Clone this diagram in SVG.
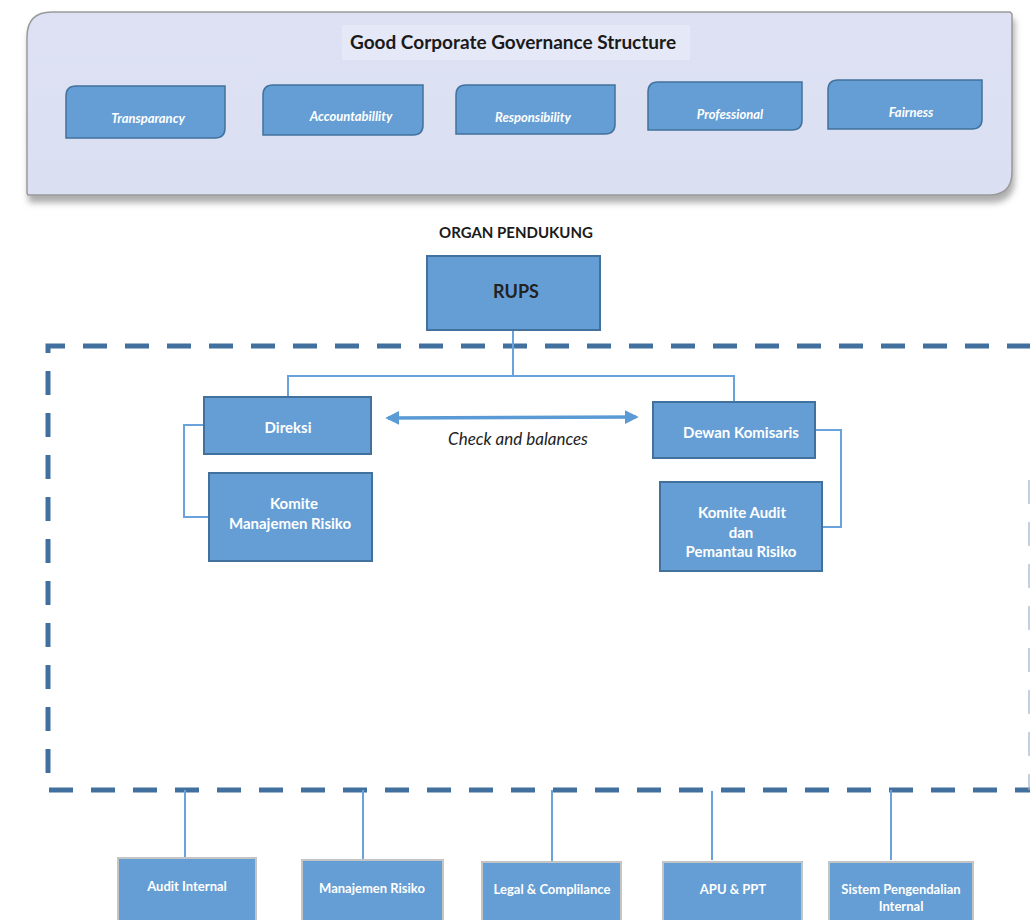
<svg xmlns="http://www.w3.org/2000/svg" width="1030" height="920" viewBox="0 0 1030 920">
  <defs>
    <filter id="panelShadow" x="-5%" y="-10%" width="110%" height="130%">
      <feDropShadow dx="2" dy="7" stdDeviation="3" flood-color="#777" flood-opacity="0.6"/>
    </filter>
    <linearGradient id="panelFill" x1="0" y1="0" x2="0" y2="1">
      <stop offset="0" stop-color="#dde1f3"/>
      <stop offset="1" stop-color="#dadff1"/>
    </linearGradient>
    <marker id="arrowHead" viewBox="0 0 10 10" refX="8" refY="5" markerWidth="4" markerHeight="4" orient="auto-start-reverse">
      <path d="M0,0 L10,5 L0,10 Z" fill="#5b9bd5"/>
    </marker>
    <style>
      .pillar { fill: #659ed4; stroke: #41719c; stroke-width: 1.5; }
      .pillar-text { font-family: Lato, "Open Sans", sans-serif; font-size: 13px; font-weight: bold; font-style: italic; fill: #ffffff; text-anchor: middle; }
      .box { fill: #659ed4; stroke: #41719c; stroke-width: 2; }
      .box-text { font-family: Lato, "Open Sans", sans-serif; font-size: 15px; font-weight: bold; fill: #ffffff; text-anchor: middle; }
      .unit { fill: #659ed4; stroke: #c4c4c4; stroke-width: 2; }
      .unit-text { font-family: Lato, "Open Sans", sans-serif; font-size: 13px; font-weight: bold; fill: #ffffff; text-anchor: middle; }
      .link { fill: none; stroke: #6aa2db; stroke-width: 2; }
      .heading { font-family: Lato, "Open Sans", sans-serif; font-weight: bold; fill: #1a1a1a; text-anchor: middle; }
    </style>
  </defs>

  <rect width="1030" height="920" fill="#ffffff"/>

  <!-- GCG principles panel -->
  <g id="gcg-panel">
    <path d="M52,12 L1010,12 L1012,14 L1012,172 Q1012,195 989,195 L28,195 L27,193 L27,37 Q27,12 52,12 Z" fill="url(#panelFill)" stroke="#9a9a9a" stroke-width="1.5" filter="url(#panelShadow)"/>
    <rect x="342" y="25" width="348" height="35" fill="#e5e8f6"/>
    <text class="heading" x="513" y="49" font-size="19">Good Corporate Governance Structure</text>
  </g>

  <g id="pillar-transparancy">
    <path class="pillar" d="M76,86 L225,86 L225,128 Q225,138 215,138 L66,138 L66,96 Q66,86 76,86 Z"/>
    <text class="pillar-text" x="148" y="123">Transparancy</text>
  </g>
  <g id="pillar-accountability">
    <path class="pillar" d="M273,85 L423,85 L423,125 Q423,135 413,135 L263,135 L263,95 Q263,85 273,85 Z"/>
    <text class="pillar-text" x="351" y="121">Accountabillity</text>
  </g>
  <g id="pillar-responsibility">
    <path class="pillar" d="M466,85 L615,85 L615,124 Q615,134 605,134 L456,134 L456,95 Q456,85 466,85 Z"/>
    <text class="pillar-text" x="533" y="122">Responsibility</text>
  </g>
  <g id="pillar-professional">
    <path class="pillar" d="M658,82 L802,82 L802,120 Q802,130 792,130 L648,130 L648,92 Q648,82 658,82 Z"/>
    <text class="pillar-text" x="730" y="119">Professional</text>
  </g>
  <g id="pillar-fairness">
    <path class="pillar" d="M838,80 L982,80 L982,119 Q982,129 972,129 L828,129 L828,90 Q828,80 838,80 Z"/>
    <text class="pillar-text" x="911" y="117">Fairness</text>
  </g>

  <text class="heading" x="516" y="238" font-size="15">ORGAN PENDUKUNG</text>

  <!-- Dashed boundary of the main organs -->
  <path id="organ-boundary" d="M1031,346 L48,346 L48,790 L1031,790" fill="none" stroke="#41709f" stroke-width="5" stroke-dasharray="24 18"/>
  <line x1="1029" y1="480" x2="1029" y2="790" stroke="#9fb2c8" stroke-width="1.2" stroke-dasharray="24 18"/>

  <!-- Connectors -->
  <g id="connectors">
    <path class="link" d="M513,330 L513,376"/>
    <path class="link" d="M288,397 L288,376 L734,376 L734,402"/>
    <path class="link" d="M204,425 L184,425 L184,517 L209,517"/>
    <path class="link" d="M815,430 L841,430 L841,527 L822,527"/>
    <path class="link" d="M185,790 L185,858"/>
    <path class="link" d="M363,790 L363,860"/>
    <path class="link" d="M552,790 L552,862"/>
    <path class="link" d="M712,791 L712,860"/>
    <path class="link" d="M891,790 L891,860"/>
    <line x1="388" y1="418" x2="636" y2="417" stroke="#5b9bd5" stroke-width="3.5" marker-start="url(#arrowHead)" marker-end="url(#arrowHead)"/>
    <text x="518" y="445" font-family="Lato, 'Open Sans', sans-serif" font-size="17" font-style="italic" fill="#222" text-anchor="middle">Check and balances</text>
  </g>

  <!-- Main organs -->
  <g id="rups">
    <rect class="box" x="427" y="256" width="173" height="74"/>
    <text x="516" y="298" font-family="Lato, 'Open Sans', sans-serif" font-size="18" font-weight="bold" fill="#222" text-anchor="middle">RUPS</text>
  </g>
  <g id="direksi">
    <rect class="box" x="204" y="397" width="167" height="57"/>
    <text class="box-text" x="288" y="433">Direksi</text>
  </g>
  <g id="komite-manajemen-risiko">
    <rect class="box" x="209" y="473" width="163" height="88"/>
    <text class="box-text" x="294" y="509">Komite</text>
    <text class="box-text" x="290" y="529">Manajemen Risiko</text>
  </g>
  <g id="dewan-komisaris">
    <rect class="box" x="653" y="402" width="162" height="56"/>
    <text class="box-text" x="741" y="438">Dewan Komisaris</text>
  </g>
  <g id="komite-audit">
    <rect class="box" x="660" y="482" width="162" height="89"/>
    <text class="box-text" x="742" y="518">Komite Audit</text>
    <text class="box-text" x="741" y="538">dan</text>
    <text class="box-text" x="741" y="557">Pemantau Risiko</text>
  </g>

  <!-- Supporting units -->
  <g id="audit-internal">
    <rect class="unit" x="118" y="858" width="138" height="66"/>
    <text class="unit-text" x="187" y="891">Audit Internal</text>
  </g>
  <g id="manajemen-risiko">
    <rect class="unit" x="302" y="860" width="141" height="64"/>
    <text class="unit-text" x="372" y="893">Manajemen Risiko</text>
  </g>
  <g id="legal-compliance">
    <rect class="unit" x="482" y="862" width="139" height="62"/>
    <text class="unit-text" x="552" y="894">Legal &amp; Complilance</text>
  </g>
  <g id="apu-ppt">
    <rect class="unit" x="663" y="862" width="139" height="62"/>
    <text class="unit-text" x="733" y="894">APU &amp; PPT</text>
  </g>
  <g id="sistem-pengendalian-internal">
    <rect class="unit" x="829" y="862" width="144" height="62"/>
    <text class="unit-text" x="901" y="894">Sistem Pengendalian</text>
    <text class="unit-text" x="901" y="911">Internal</text>
  </g>
</svg>
